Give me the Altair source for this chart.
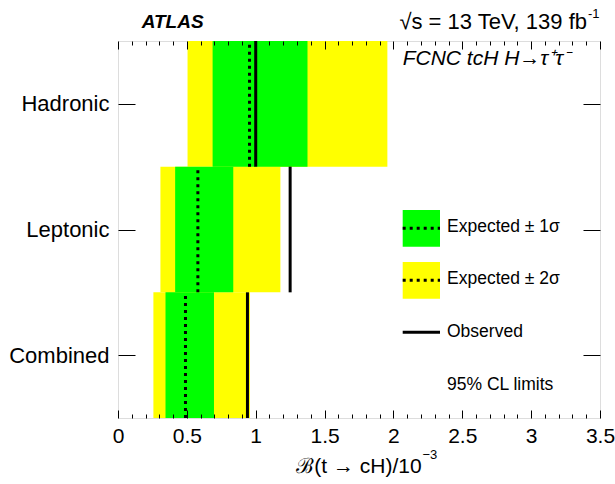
import json
import altair as alt
import pandas as pd

# ---- data ----
categories = ["Combined", "Leptonic", "Hadronic"]
observed = [0.94, 1.25, 1.00]
expected = [0.49, 0.58, 0.955]
minus1 = [0.345, 0.415, 0.687]
plus1 = [0.697, 0.837, 1.376]
minus2 = [0.257, 0.308, 0.505]
plus2 = [0.958, 1.179, 1.956]

x_major = [0, 0.5, 1, 1.5, 2, 2.5, 3, 3.5]
x_minor = [round(i * 0.1, 1) for i in range(36) if i % 5 != 0]
legend_labels = ["Expected \u00b1 1\u03c3", "Expected \u00b1 2\u03c3", "Observed", "95% CL limits"]

df = pd.DataFrame({
    "cat": categories,
    "lo": list(range(len(categories))),
    "hi": [i + 1 for i in range(len(categories))],
    "observed": observed,
    "expected": expected,
    "m1": minus1, "p1": plus1,
    "m2": minus2, "p2": plus2,
})

FONT = "Liberation Sans"
W, H = 482, 377

xs = alt.Scale(domain=[0, 3.5], nice=False, zero=False)
ys = alt.Scale(domain=[0, len(categories)], nice=False, zero=False)
y_centers = [i + 0.5 for i in range(len(categories))]
label_expr = json.dumps(categories) + "[floor(datum.value)]"

common = dict(grid=False, domain=False, tickColor="black", tickWidth=1, zindex=2, title=None)

ax_bottom_major = alt.Axis(orient="bottom", values=x_major, offset=-8, tickSize=8,
                           labelPadding=7, labelFontSize=21, labelFont=FONT, labelColor="black",
                           labelFlush=False, labelOverlap=False, format="~g", **common)
ax_bottom_minor = alt.Axis(orient="bottom", values=x_minor, offset=-4, tickSize=4,
                           labels=False, **common)
ax_top_major = alt.Axis(orient="top", values=x_major, offset=-8, tickSize=8, labels=False, **common)
ax_top_minor = alt.Axis(orient="top", values=x_minor, offset=-4, tickSize=4, labels=False, **common)
ax_left = alt.Axis(orient="left", values=y_centers, offset=-17, tickSize=17, labelPadding=9,
                   labelFontSize=22, labelFont=FONT, labelColor="black", labelExpr=label_expr,
                   labelOverlap=False, **common)
ax_right = alt.Axis(orient="right", values=y_centers, offset=-17, tickSize=17, labels=False, **common)

base = alt.Chart(df)

yellow = base.mark_rect(color="#ffff00").encode(
    x=alt.X("m2:Q", scale=xs, axis=ax_bottom_major), x2="p2:Q",
    y=alt.Y("lo:Q", scale=ys, axis=ax_left), y2="hi:Q")
green = base.mark_rect(color="#00ff00").encode(
    x=alt.X("m1:Q", scale=xs, axis=ax_bottom_minor), x2="p1:Q",
    y=alt.Y("lo:Q", scale=ys, axis=ax_right), y2="hi:Q")
exp_rule = base.mark_rule(color="black", strokeWidth=3, strokeDash=[3, 4]).encode(
    x=alt.X("expected:Q", scale=xs, axis=ax_top_major),
    y=alt.Y("lo:Q", scale=ys, axis=None), y2="hi:Q")
obs_rule = base.mark_rule(color="black", strokeWidth=3).encode(
    x=alt.X("observed:Q", scale=xs, axis=ax_top_minor),
    y=alt.Y("lo:Q", scale=ys, axis=None), y2="hi:Q")

one = alt.Chart(pd.DataFrame({"k": [0]}))

# legend
lx0, lx1 = 284.7, 322
leg_green = one.mark_rect(color="#00ff00").encode(
    x=alt.value(lx0), x2=alt.value(lx1), y=alt.value(169), y2=alt.value(205.7))
leg_yellow = one.mark_rect(color="#ffff00").encode(
    x=alt.value(lx0), x2=alt.value(lx1), y=alt.value(221), y2=alt.value(257.7))
leg_d1 = one.mark_rule(color="black", strokeWidth=3, strokeDash=[3, 4]).encode(
    x=alt.value(lx0), x2=alt.value(lx1), y=alt.value(187.3))
leg_d2 = one.mark_rule(color="black", strokeWidth=3, strokeDash=[3, 4]).encode(
    x=alt.value(lx0), x2=alt.value(lx1), y=alt.value(239.3))
leg_obs = one.mark_rule(color="black", strokeWidth=3).encode(
    x=alt.value(lx0), x2=alt.value(lx1), y=alt.value(291.3))

def txt(s, x, y, size, align="left", style="normal", weight="normal", baseline="middle"):
    return one.mark_text(text=s, align=align, baseline=baseline, fontSize=size, font=FONT,
                         fontStyle=style, fontWeight=weight, color="black").encode(
        x=alt.value(x), y=alt.value(y))

leg_texts = [txt(s, 329, y, 17.5) for s, y in zip(legend_labels, [186.3, 238.3, 290.7, 344])]

atlas = txt("ATLAS", 23.7, -19, 19, style="italic", weight="bold")
energy = txt("\u221as = 13 TeV, 139 fb", 469, -19, 22, align="right")
energy_sup = txt("-1", 470, -27, 13)
process = txt("FCNC tcH H\u2192\u03c4\u207a\u03c4\u207b", 284.7, 18, 21, style="italic")
xtitle = txt("\u212c(t \u2192 cH)/10", 303.7, 426, 21, align="right")
xtitle_sup = txt("\u22123", 304.5, 414, 13)

chart = alt.layer(
    yellow, green, exp_rule, obs_rule,
    leg_green, leg_yellow, leg_d1, leg_d2, leg_obs, *leg_texts,
    atlas, energy, energy_sup, process, xtitle, xtitle_sup,
).resolve_axis(x="independent", y="independent").properties(
    width=W, height=H,
    autosize=alt.AutoSizeParams(type="none"),
    padding={"left": 118, "top": 41, "right": 15, "bottom": 66},
).configure_view(stroke="black", strokeWidth=1.5).configure(background="white")

chart.save("out.html", embed_options={"renderer": "svg", "actions": False})
